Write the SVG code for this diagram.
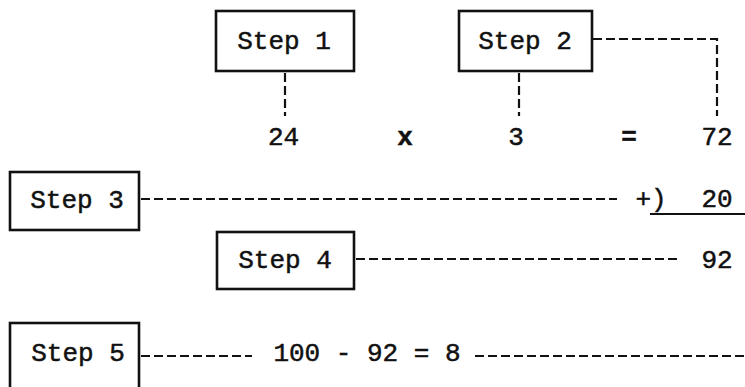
<svg xmlns="http://www.w3.org/2000/svg" width="745" height="387" viewBox="0 0 745 387">
<style>
.box{fill:#fff;stroke:#111;stroke-width:2.6}
.t{font-family:"Liberation Mono","DejaVu Sans Mono",monospace;font-size:26px;fill:#111;stroke:#111;stroke-width:0.5;text-anchor:middle}
.b{font-weight:bold}
.d{fill:none;stroke:#111;stroke-width:2.2;stroke-dasharray:9 4}
.u{fill:none;stroke:#111;stroke-width:2}
</style>
<rect width="745" height="387" fill="#fff"/>
<g id="connectors">
<path class="d" d="M285 73V116"/>
<path class="d" d="M519 73V116"/>
<path class="d" d="M593 39H717V116"/>
<path class="d" d="M141 199H617"/>
<path class="d" d="M356 259H678"/>
<path class="d" d="M141 356H252"/>
<path class="d" d="M475 356H745"/>
<path class="u" d="M650 214H745"/>
</g>
<g id="step1"><rect class="box" x="216" y="11" width="138" height="60"/><text class="t" x="284" y="49">Step 1</text></g>
<g id="step2"><rect class="box" x="459" y="11" width="133" height="60"/><text class="t" x="525" y="49">Step 2</text></g>
<g id="step3"><rect class="box" x="10" y="172" width="129" height="58"/><text class="t" x="77" y="208">Step 3</text></g>
<g id="step4"><rect class="box" x="217" y="232" width="137" height="57"/><text class="t" x="285" y="268">Step 4</text></g>
<g id="step5"><rect class="box" x="10" y="323" width="129" height="80"/><text class="t" x="78" y="361">Step 5</text></g>
<g id="values">
<text class="t" x="283.5" y="145">24</text>
<text class="t b" x="405" y="145">x</text>
<text class="t" x="516" y="145">3</text>
<text class="t b" x="629" y="145">=</text>
<text class="t" x="717" y="145">72</text>
<text class="t" x="651" y="207">+)</text>
<text class="t" x="717" y="207">20</text>
<text class="t" x="717" y="268">92</text>
<text class="t" x="367" y="361">100 - 92 = 8</text>
</g>
</svg>
